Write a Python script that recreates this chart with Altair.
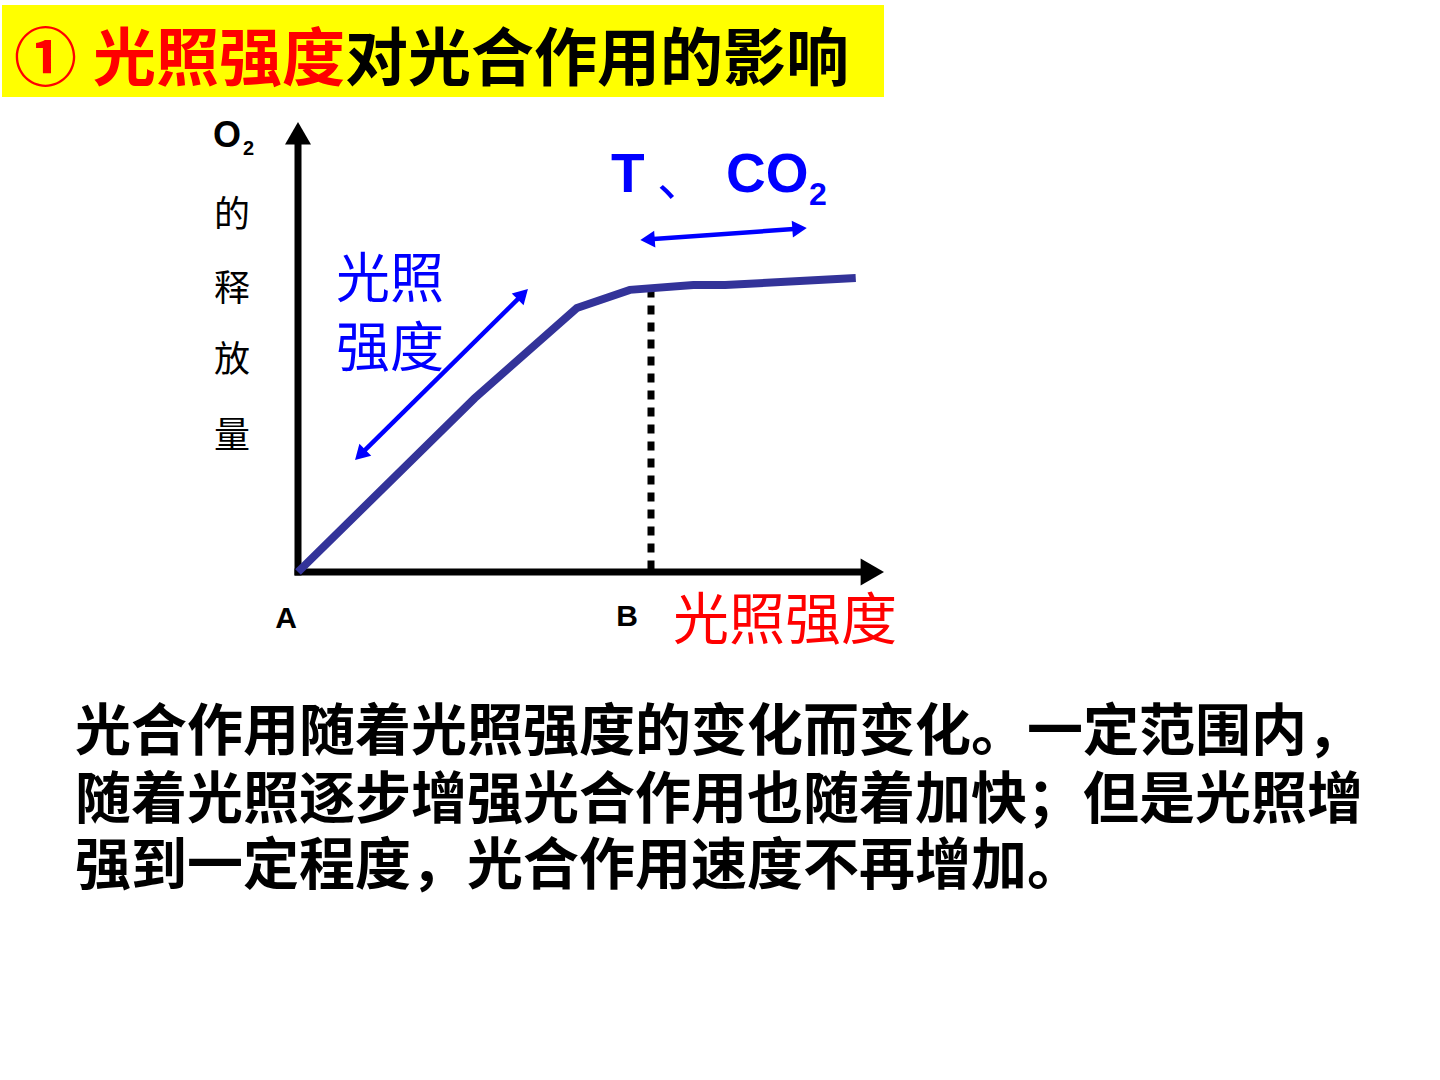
import altair as alt
import pandas as pd

# ---------------- data ----------------
light = [0, 5.0, 7.9, 9.4, 11.2, 12.1, 15.8]          # 光照强度 (x)
o2 = [0, 6.05, 9.2, 9.83, 10.0, 10.0, 10.24]          # O2 的释放量 (y)
point_b = 10.0                                         # 光饱和点 B
point_b_o2 = 9.88
axis_x_end = 15.98
axis_y_end = 15.05
x_arrow_tip = 16.27
y_arrow_tip = 15.29
diag_x = [1.81, 6.32]                                  # 光照强度 双向箭头
diag_y = [4.14, 9.62]
horiz_x = [9.97, 14.14]                                # T、CO2 双向箭头
horiz_y = [11.59, 11.96]

title_num = "①"
title_red = "光照强度"
title_black = "对光合作用的影响"
ylabel_chars = ["的", "释", "放", "量"]
xlabel = "光照强度"
label_a, label_b = "A", "B"
diag_label = ["光照", "强度"]
para = [
    "光合作用随着光照强度的变化而变化。一定范围内，",
    "随着光照逐步增强光合作用也随着加快；但是光照增",
    "强到一定程度，光合作用速度不再增加。",
]

# ---------------- layout ----------------
W, H = 1440, 1080
OX, OY = 298, 572       # pixel position of origin A
UX, UY = 35.3, 28.7     # pixels per unit
xs = alt.Scale(domain=[-OX / UX, (W - OX) / UX], nice=False, zero=False)
ys = alt.Scale(domain=[-(H - OY) / UY, OY / UY], nice=False, zero=False)

CJK = "Noto Sans CJK SC"
LAT = "Liberation Sans"
BLUE = "#0000ff"
RED = "#ff0000"


def X(f):
    return alt.X(f, type="quantitative", scale=xs, axis=None)


def Y(f):
    return alt.Y(f, type="quantitative", scale=ys, axis=None)


def txt(s, x, y, size, color="black", font=CJK, weight="normal", align="left"):
    return alt.Chart(pd.DataFrame({"t": [s]})).mark_text(
        font=font, fontSize=size, fontWeight=weight, color=color,
        align=align, baseline="alphabetic"
    ).encode(x=alt.value(x), y=alt.value(y), text="t:N")


one = pd.DataFrame({"k": [0]})

bg = alt.Chart(one).mark_rect(color="#ffff00").encode(
    x=alt.value(2), x2=alt.value(884), y=alt.value(5), y2=alt.value(97)
)

curve_df = pd.DataFrame({"x": light, "y": o2})
curve = alt.Chart(curve_df).mark_line(color="#333399", strokeWidth=8).encode(
    x=X("x"), y=Y("y"), order="x:Q"
)

dotted = alt.Chart(pd.DataFrame({"x": [point_b], "y": [point_b_o2], "y2": [0]})).mark_rule(
    color="black", strokeWidth=7, strokeDash=[9, 8]
).encode(x=X("x"), y=Y("y"), y2="y2:Q")

axes_df = pd.DataFrame({"x": [0, 0], "y": [0, 0], "x2": [0, axis_x_end], "y2": [axis_y_end, 0]})
axes = alt.Chart(axes_df).mark_rule(color="black", strokeWidth=7, strokeCap="square").encode(
    x=X("x"), y=Y("y"), x2="x2:Q", y2="y2:Q"
)
y_head = alt.Chart(pd.DataFrame({"x": [0], "y": [y_arrow_tip]})).mark_point(
    shape="triangle-up", filled=True, size=676, color="black", opacity=1
).encode(x=X("x"), y=Y("y"))
x_head = alt.Chart(pd.DataFrame({"x": [x_arrow_tip], "y": [0]})).mark_point(
    shape="triangle-right", filled=True, size=729, color="black", opacity=1
).encode(x=X("x"), y=Y("y"))


def double_arrow(xv, yv, ang):
    df = pd.DataFrame({"x": [xv[0]], "y": [yv[0]], "x2": [xv[1]], "y2": [yv[1]]})
    line = alt.Chart(df).mark_rule(color=BLUE, strokeWidth=4.5).encode(
        x=X("x"), y=Y("y"), x2="x2:Q", y2="y2:Q"
    )
    a = alt.Chart(pd.DataFrame({"x": [xv[1]], "y": [yv[1]]})).mark_point(
        shape="triangle", filled=True, size=280, color=BLUE, opacity=1, angle=ang
    ).encode(x=X("x"), y=Y("y"))
    b = alt.Chart(pd.DataFrame({"x": [xv[0]], "y": [yv[0]]})).mark_point(
        shape="triangle", filled=True, size=280, color=BLUE, opacity=1, angle=ang + 180
    ).encode(x=X("x"), y=Y("y"))
    return [line, a, b]


texts = [
    txt(title_num, 14, 80, 63, RED, weight="bold"),
    txt(title_red, 93, 80, 63, RED, weight="bold"),
    txt(title_black, 345, 80, 63, "black", weight="bold"),
    txt("O", 227, 147, 36, font=LAT, weight="bold", align="center"),
    txt("2", 243, 155, 20, font=LAT, weight="bold"),
    txt(label_a, 286, 628, 30, font=LAT, weight="bold", align="center"),
    txt(label_b, 627, 626, 30, font=LAT, weight="bold", align="center"),
    txt(xlabel, 673, 639, 56, RED),
    txt(diag_label[0], 336, 298, 54, BLUE),
    txt(diag_label[1], 336, 367, 54, BLUE),
    txt("T", 611, 192, 55, BLUE, font=LAT, weight="bold"),
    txt("、", 657, 196, 50, BLUE),
    txt("CO", 726, 192, 55, BLUE, font=LAT, weight="bold"),
    txt("2", 809, 205, 32, BLUE, font=LAT, weight="bold"),
]
for ch, cy in zip(ylabel_chars, [213, 287, 358, 434]):
    texts.append(txt(ch, 232, cy + 14, 36, align="center"))
for line, cy in zip(para, [729, 797, 863]):
    texts.append(txt(line, 75, cy + 21, 56, weight="bold"))

layers = [bg, dotted, axes, y_head, x_head, curve]
layers += double_arrow(diag_x, diag_y, 45)
layers += double_arrow(horiz_x, horiz_y, 86)
layers += texts

chart = alt.layer(*layers).properties(
    width=W, height=H, padding=0, autosize=alt.AutoSizeParams(type="none"),
    background="white"
).configure_view(stroke=None)

chart.save("out.html", embed_options={"renderer": "svg", "actions": False})
